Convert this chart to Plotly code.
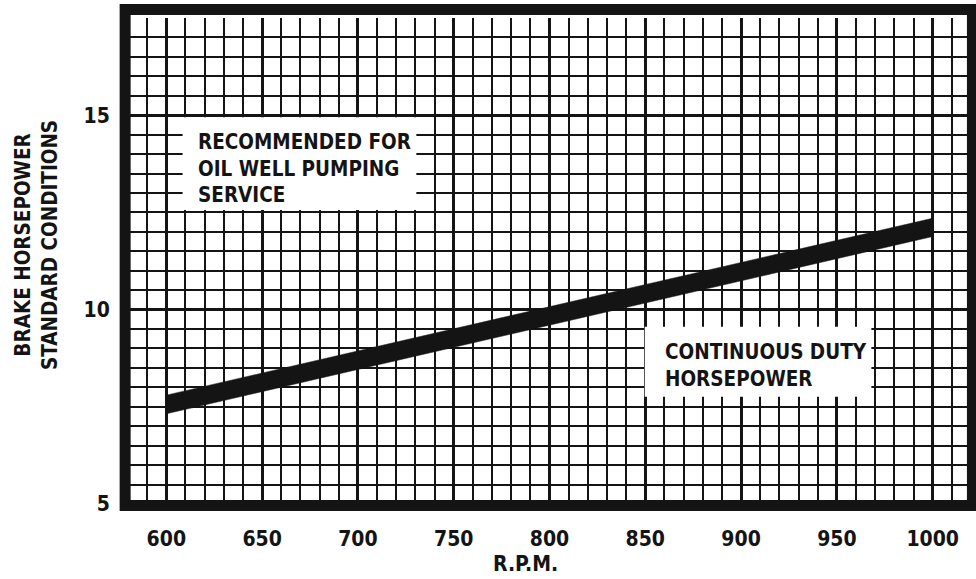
import plotly.graph_objects as go

# ---- data ----
rpm_ends = [600, 1000]
hp_band_upper = [7.80, 12.35]
hp_band_lower = [7.32, 11.88]

x_tick_vals = [600, 650, 700, 750, 800, 850, 900, 950, 1000]
x_tick_text = ["600", "650", "700", "750", "800", "850", "900", "950", "1000"]
y_tick_vals = [5, 10, 15]
y_tick_text = ["5", "10", "15"]

label_recommended = "RECOMMENDED FOR<br>OIL WELL PUMPING<br>SERVICE"
label_continuous = "CONTINUOUS DUTY<br>HORSEPOWER"
y_title = "BRAKE HORSEPOWER<br>STANDARD CONDITIONS"
x_title = "R.P.M."

FONT = "Liberation Sans Narrow, DejaVu Sans Condensed, sans-serif"
INK = "#141414"

W, H = 976, 579
L, R, T, B = 128, 5, 18, 75
pw, ph = W - L - R, H - T - B


def px_to_paper(px, py):
    return (px - L) / pw, (H - py - B) / ph


fig = go.Figure()

# band: upper edge forward, lower edge back
fig.add_trace(go.Scatter(
    x=rpm_ends + rpm_ends[::-1],
    y=hp_band_upper + hp_band_lower[::-1],
    fill="toself",
    fillcolor=INK,
    line=dict(color=INK, width=0.5),
    mode="lines",
    hoverinfo="skip",
    showlegend=False,
))

fig.update_layout(
    width=W, height=H,
    margin=dict(l=L, r=R, t=T, b=B),
    paper_bgcolor="white",
    plot_bgcolor="white",
    font=dict(family=FONT, color=INK, weight="bold"),
    showlegend=False,
)

fig.update_xaxes(
    range=[580, 1020],
    tickvals=x_tick_vals, ticktext=x_tick_text,
    tickfont=dict(family=FONT, size=21, color=INK, weight="bold"),
    ticks="outside", ticklen=16, tickcolor="rgba(0,0,0,0)",
    showgrid=True, gridcolor=INK, gridwidth=3.4,
    minor=dict(dtick=10, tick0=580, showgrid=True, gridcolor=INK, gridwidth=2.1),
    zeroline=False, showline=False,
)
fig.update_yaxes(
    range=[5, 17.5],
    tickvals=y_tick_vals, ticktext=y_tick_text,
    tickfont=dict(family=FONT, size=21, color=INK, weight="bold"),
    ticks="outside", ticklen=13, tickcolor="rgba(0,0,0,0)",
    showgrid=True, gridcolor=INK, gridwidth=3.4,
    minor=dict(dtick=0.5, tick0=5, showgrid=True, gridcolor=INK, gridwidth=2.1),
    zeroline=False, showline=False,
)

# white label boxes
fig.add_shape(type="rect", xref="x", yref="y", x0=608.5, x1=730.5, y0=12.56, y1=14.95,
              fillcolor="white", line=dict(width=0), layer="above")
fig.add_shape(type="rect", xref="x", yref="y", x0=849.7, x1=968, y0=7.76, y1=9.56,
              fillcolor="white", line=dict(width=0), layer="above")

# heavy frame
fig.add_shape(type="rect", xref="paper", yref="paper",
              x0=-0.0034, x1=1.0017, y0=-0.0033, y1=1.0177,
              line=dict(color=INK, width=11), fillcolor="rgba(0,0,0,0)", layer="above")

fig.add_annotation(x=615.5, y=13.64, xref="x", yref="y", text=label_recommended,
                   showarrow=False, xanchor="left", yanchor="middle", align="left",
                   font=dict(family=FONT, size=20.5, color=INK, weight="bold"))
fig.add_annotation(x=859, y=8.55, xref="x", yref="y", text=label_continuous,
                   showarrow=False, xanchor="left", yanchor="middle", align="left",
                   font=dict(family=FONT, size=20.5, color=INK, weight="bold"))

ax, ay = px_to_paper(36, 245)
fig.add_annotation(x=ax, y=ay, xref="paper", yref="paper", text=y_title,
                   showarrow=False, textangle=-90, xanchor="center", yanchor="middle",
                   font=dict(family=FONT, size=20.5, color=INK, weight="bold"))
bx, by = px_to_paper(525, 564)
fig.add_annotation(x=bx, y=by, xref="paper", yref="paper", text=x_title,
                   showarrow=False, xanchor="center", yanchor="middle",
                   font=dict(family=FONT, size=21, color=INK, weight="bold"))

fig.write_html("out.html",
               config={"displayModeBar": False},
               post_script="document.body.style.margin='0';document.body.style.overflow='hidden';")
